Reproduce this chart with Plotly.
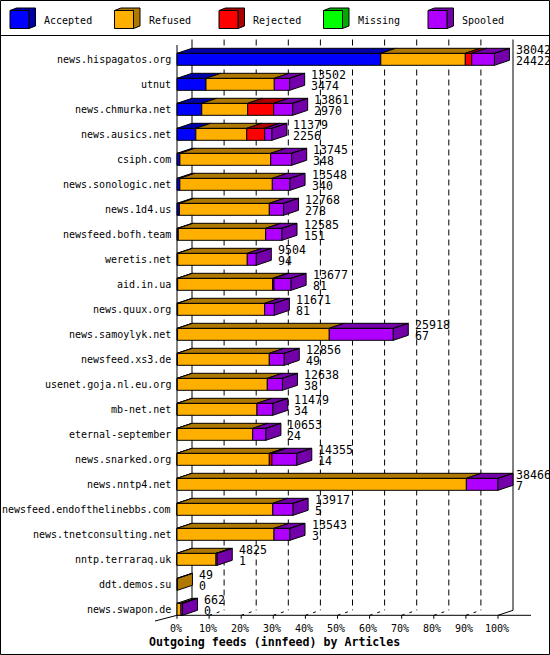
import plotly.graph_objects as go

W, H = 550, 655

feeds = ["news.hispagatos.org", "utnut", "news.chmurka.net", "news.ausics.net",
         "csiph.com", "news.sonologic.net", "news.1d4.us", "newsfeed.bofh.team",
         "weretis.net", "aid.in.ua", "news.quux.org", "news.samoylyk.net",
         "newsfeed.xs3.de", "usenet.goja.nl.eu.org", "mb-net.net", "eternal-september",
         "news.snarked.org", "news.nntp4.net", "newsfeed.endofthelinebbs.com",
         "news.tnetconsulting.net", "nntp.terraraq.uk", "ddt.demos.su", "news.swapon.de"]
offered = [38042, 13502, 13861, 11379, 13745, 13548, 12768, 12585, 9504, 13677, 11671,
           25918, 12856, 12638, 11479, 10653, 14355, 38466, 13917, 13543, 4825, 49, 662]
accepted = [24422, 3474, 2970, 2256, 348, 340, 278, 151, 94, 81, 81, 67, 49, 38, 34,
            24, 14, 7, 5, 3, 1, 0, 0]
refused = [10126, 8185, 5500, 6100, 10880, 11084, 10785, 10473, 8328, 11384, 10425,
           18178, 11012, 10785, 9551, 9047, 11048, 34667, 11468, 11624, 4674, 49, 480]
rejected = [767, 0, 3116, 2157, 0, 0, 0, 0, 0, 150, 0, 0, 0, 0, 0, 0, 320, 0, 0, 0,
            0, 0, 0]
missing = [0] * 23
spooled = [2727, 1843, 2275, 866, 2517, 2124, 1705, 1961, 1082, 2062, 1165, 7673, 1795,
           1815, 1894, 1582, 2973, 3792, 2444, 1916, 150, 0, 182]

series = ["Accepted", "Refused", "Rejected", "Missing", "Spooled"]
front_colors = ["#0000FF", "#FFAF00", "#FF0000", "#00FF00", "#AF00FF"]
dark_colors = ["#0000AA", "#AF7800", "#AA0000", "#00AA00", "#7400AA"]
pct_ticks = [0, 10, 20, 30, 40, 50, 60, 70, 80, 90, 100]
title = "Outgoing feeds (innfeed) by Articles"

FONT = "DejaVu Sans Mono"

# pixel geometry of the drawing (plot area = whole page)
PX0 = 177.0     # 0% on the front plane
PXS = 3.21      # pixels per percent
Y0 = 59.3       # centre of first row
ROW = 25.0      # pixels per row


def px_x(px):
    return (px - PX0) / PXS


def px_y(py):
    return (py - Y0) / ROW


DX = 15 / PXS
DY = 5 / ROW
HALF = 6 / ROW

values = [accepted, refused, rejected, missing, spooled]
top = max(offered)
n = len(feeds)

fig = go.Figure()

# front faces
ends = [0.0] * n
for k, name in enumerate(series):
    xs, bases = [], []
    for i in range(n):
        v = values[k][i] / top * 100
        if v > 0:
            xs.append(v)
            bases.append(ends[i])
            ends[i] += v
        else:
            xs.append(None)
            bases.append(0)
    fig.add_trace(go.Bar(
        y=list(range(n)), x=xs, base=bases, orientation="h", width=2 * HALF,
        marker=dict(color=front_colors[k], line=dict(color="black", width=1)),
        name=name, hoverinfo="skip", showlegend=False))

# top faces and right side
poly_x = {k: [] for k in range(5)}
poly_y = {k: [] for k in range(5)}
for i in range(n):
    start = 0.0
    last = None
    yt, yb = i - HALF, i + HALF
    for k in range(5):
        v = values[k][i] / top * 100
        if v <= 0:
            continue
        x0, x1 = start, start + v
        poly_x[k] += [x0, x1, x1 + DX, x0 + DX, x0, None]
        poly_y[k] += [yt, yt, yt - DY, yt - DY, yt, None]
        start = x1
        last = k
    if last is not None:
        poly_x[last] += [start, start + DX, start + DX, start, start, None]
        poly_y[last] += [yt, yt - DY, yb - DY, yb, yt, None]

for k in range(5):
    if poly_x[k]:
        fig.add_trace(go.Scatter(
            x=poly_x[k], y=poly_y[k], mode="lines", fill="toself",
            fillcolor=dark_colors[k], line=dict(color="black", width=1),
            hoverinfo="skip", showlegend=False))

shapes = []
floor_front = n - 1 + HALF
floor_back = floor_front - DY
wall_top = px_y(39.5)


def seg(x0, y0, x1, y1, dash=None, layer="below"):
    line = dict(color="black", width=1)
    if dash:
        line["dash"] = dash
    shapes.append(dict(type="line", xref="x", yref="y", x0=x0, y0=y0, x1=x1, y1=y1,
                       line=line, layer=layer))


# back wall, grid and floor
for t in pct_ticks[1:-1]:
    seg(t + DX, wall_top, t + DX, floor_back, dash="6px,4px")
    seg(t, floor_front, t + DX, floor_back, dash="3px,5px")
seg(DX, wall_top, DX, floor_back)
seg(100 + DX, wall_top, 100 + DX, floor_back)
seg(0, px_y(45), 0, floor_front)
seg(0, floor_front, px_x(531), floor_front)
seg(px_x(155), px_y(621), 0, floor_front)
seg(100, floor_front, 100 + DX, floor_back)
for t in pct_ticks:
    seg(t, floor_front, t, floor_front + 3.5 / ROW)

annotations = []
label_max = px_x(513.5)   # keep the widest labels inside the page border
for i, name in enumerate(feeds):
    annotations.append(dict(x=px_x(173), y=i, text=name, xanchor="right", yanchor="middle",
                            showarrow=False, font=dict(family=FONT, size=10, color="black")))
    lx = min(ends[i] + DX + 4.5 / PXS, label_max)
    annotations.append(dict(x=lx, y=i - 9.5 / ROW, text=str(offered[i]), xanchor="left",
                            yanchor="middle", showarrow=False,
                            font=dict(family=FONT, size=11.6, color="black")))
    annotations.append(dict(x=lx, y=i + 2 / ROW, text=str(accepted[i]), xanchor="left",
                            yanchor="middle", showarrow=False,
                            font=dict(family=FONT, size=11.6, color="black")))

for t in pct_ticks:
    annotations.append(dict(x=t - 1.5 / PXS, y=px_y(628), text=f"{t}%", xanchor="center",
                            yanchor="middle", showarrow=False,
                            font=dict(family=FONT, size=10, color="black")))

annotations.append(dict(x=px_x(274), y=px_y(641.5), text=f"<b>{title}</b>",
                        xanchor="center", yanchor="middle", showarrow=False,
                        font=dict(family=FONT, size=11.6, color="black")))

# legend with little cubes
for k, name in enumerate(series):
    lx0 = 10 + 104.5 * k
    fx0, fx1 = px_x(lx0), px_x(lx0 + 19)
    fy0, fy1 = px_y(10.5), px_y(28.5)
    ddx, ddy = 6.5 / PXS, 2.5 / ROW
    shapes.append(dict(type="path", xref="x", yref="y", layer="above",
                       path=f"M{fx0},{fy0} L{fx0 + ddx},{fy0 - ddy} L{fx1 + ddx},{fy0 - ddy} "
                            f"L{fx1 + ddx},{fy1 - ddy} L{fx1},{fy1} L{fx1},{fy0} Z",
                       fillcolor=dark_colors[k], line=dict(color="black", width=1)))
    shapes.append(dict(type="rect", xref="x", yref="y", layer="above",
                       x0=fx0, x1=fx1, y0=fy0, y1=fy1,
                       fillcolor=front_colors[k], line=dict(color="black", width=1)))
    annotations.append(dict(x=px_x(lx0 + 32), y=px_y(20), text=name, xanchor="left",
                            yanchor="middle", showarrow=False,
                            font=dict(family=FONT, size=10, color="black")))

# page border and legend separator
shapes.append(dict(type="rect", xref="paper", yref="paper", x0=0.5 / W, x1=1 - 0.5 / W,
                   y0=0.5 / H, y1=1 - 0.5 / H, line=dict(color="black", width=1)))
shapes.append(dict(type="line", xref="paper", yref="paper", x0=0, x1=1,
                   y0=1 - 35.5 / H, y1=1 - 35.5 / H, line=dict(color="black", width=1)))

fig.update_layout(
    width=W, height=H,
    margin=dict(l=0, r=0, t=0, b=0),
    paper_bgcolor="white", plot_bgcolor="white",
    barmode="overlay",
    xaxis=dict(range=[px_x(0), px_x(W)], visible=False, fixedrange=True),
    yaxis=dict(range=[px_y(H), px_y(0)], visible=False, fixedrange=True),
    shapes=shapes, annotations=annotations,
    showlegend=False,
)

# page body has a default margin; drop it so the chart sits at the window corner
fig.write_html("out.html", config={"displayModeBar": False},
               post_script="document.body.style.margin='0';")
